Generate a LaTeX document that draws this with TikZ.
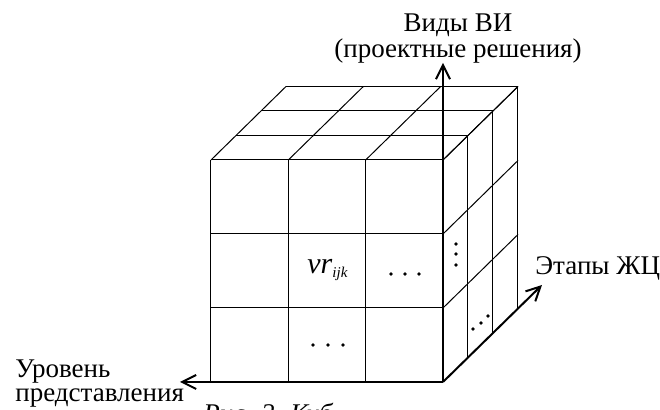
\documentclass[tikz,border=0pt]{standalone}
\usepackage{fontspec}
\setmainfont{Liberation Serif}
\usetikzlibrary{arrows.meta}
\tikzset{
  gridline/.style={draw=black, line width=0.5pt},
  axis/.style={-{Straight Barb[length=7pt,width=7pt]}, line width=1pt, draw=black},
  axislabel/.style={font=\fontsize{13.5}{11.5}\selectfont, inner sep=0pt, align=center},
  celltext/.style={font=\fontsize{15}{15}\selectfont, inner sep=0pt},
  dotmark/.style={fill=black},
}

\begin{document}
\begin{tikzpicture}[x=0.5pt, y=0.5pt]
  \useasboundingbox (-211,-28) rectangle (449,382);

  % --- Front face: 3x3 cells ---
  \foreach \i in {0,1,2,3} {
    \draw[gridline] (\i*77.33,0) -- (\i*77.33,222);
  }
  \foreach \j in {0,1,2,3} {
    \draw[gridline] (0,\j*74) -- (232,\j*74);
  }

  % --- Top face ---
  \foreach \k in {1,2,3} {
    \draw[gridline] (\k*25,222+\k*24.5) -- (232+\k*25,222+\k*24.5);
  }
  \foreach \i in {0,1,2,3} {
    \draw[gridline] (\i*77.33,222) -- ++(75,73.5);
  }

  % --- Right face ---
  \foreach \k in {1,2,3} {
    \draw[gridline] (232+\k*25,\k*24.5) -- (232+\k*25,222+\k*24.5);
  }
  \foreach \j in {1,2,3} {
    \draw[gridline] (232,\j*74) -- ++(75,73.5);
  }

  % --- Axes ---
  \coordinate (origin) at (232,0);
  \coordinate (vtip) at (232,319);
  \coordinate (htip) at (-31,0);
  \coordinate (dtip) at (331,97);
  \draw[axis] (origin) -- (vtip);
  \draw[axis] (origin) -- (htip);
  \draw[axis] (origin) -- (dtip);

  % --- Axis labels ---
  \node[axislabel, anchor=north] (vlabel) at (247,369) {Виды ВИ\\(проектные решения)};
  \node[axislabel, anchor=base west] (dlabel) at (324,107) {Этапы ЖЦ};
  \node[axislabel, anchor=north west, align=left, font=\fontsize{13.5}{12}\selectfont]
    (hlabel) at (-196,23) {Уровень\\представления};

  % --- Cell contents ---
  \node[celltext, anchor=base west] (vr) at (96,108)
    {\textit{vr}\raisebox{-2pt}{\fontsize{7.5}{8}\selectfont\textit{ijk}}};
  \foreach \x in {180,194,208} {
    \fill[dotmark] (\x,108) circle (1.8);
  }
  \foreach \x in {102,117,132} {
    \fill[dotmark] (\x,37) circle (1.8);
  }
  \foreach \y in {117,128,138} {
    \fill[dotmark] (245,\y) circle (1.8);
  }
  \foreach \x/\y in {262/53,270/59,277/66} {
    \fill[dotmark] (\x,\y) circle (1.8);
  }

  % --- Caption (cut by the page edge) ---
  \node[axislabel, font=\fontsize{13.5}{12}\selectfont\itshape, anchor=base west]
    (caption) at (-8,-41) {Рис. 2. Куб};
\end{tikzpicture}
\end{document}
